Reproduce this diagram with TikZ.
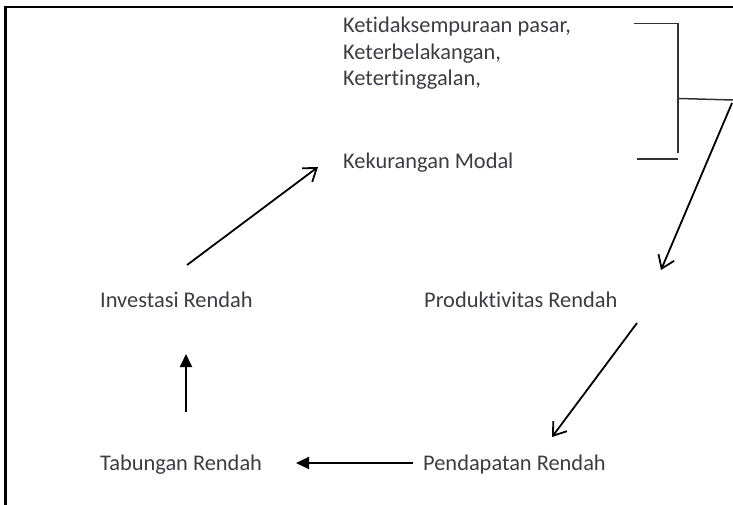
\documentclass[tikz,border=0pt]{standalone}
\usepackage{fontspec}
\setmainfont{Carlito}[Ligatures={NoCommon}]
\usetikzlibrary{arrows.meta}
\definecolor{txt}{RGB}{60,60,68}
\begin{document}
\begin{tikzpicture}[x=1pt,y=-1pt,
  lbl/.style={text=txt, font=\fontsize{22.4}{26}\selectfont, inner sep=0pt, anchor=base west},
  openarr/.style={draw=black, line width=1.8pt, -{Straight Barb[length=12pt,width=17pt,line width=1.8pt]}},
  fillarr/.style={draw=black, line width=1.9pt, -{Triangle[length=13pt,width=12pt]}},
  brk/.style={draw=black!80, line width=1.5pt},
  frame/.style={draw=black, line width=2.2pt}]
\useasboundingbox (0,0) rectangle (733,505);
% frame
\draw[frame] (5.5,505) -- (5.5,7) -- (733,7);
% texts
\node[lbl] (t1) at (343,33) {Ketidaksempuraan pasar,};
\node[lbl] (t2) at (343,60) {Keterbelakangan,};
\node[lbl] (t3) at (343,86) {Ketertinggalan,};
\node[lbl] (kek) at (343,169) {Kekurangan Modal};
\node[lbl] (inv) at (100,307) {Investasi Rendah};
\node[lbl] (prod) at (424,307) {Produktivitas Rendah};
\node[lbl] (tab) at (100,470) {Tabungan Rendah};
\node[lbl] (pend) at (423,470) {Pendapatan Rendah};
% bracket
\coordinate (b1) at (634,23.5);
\coordinate (b2) at (678,23.5);
\coordinate (b3) at (678,153);
\coordinate (b4) at (637,159);
\coordinate (b5) at (678,159);
\coordinate (bm) at (679,98.5);
\coordinate (be) at (733,100);
\draw[brk] (b1) -- (b2) -- (b3);
\draw[brk] (b4) -- (b5);
\draw[brk] (bm) -- (be);
% arrows
\coordinate (d0) at (732,103);
\coordinate (d1) at (661,270);
\draw[openarr] (d0) -- (d1);
\coordinate (p0) at (637,323);
\coordinate (p1) at (552,437);
\draw[openarr] (p0) -- (p1);
\coordinate (q0) at (413,463);
\coordinate (q1) at (296,463);
\draw[fillarr] (q0) -- (q1);
\coordinate (r0) at (186,412);
\coordinate (r1) at (186,354);
\draw[fillarr] (r0) -- (r1);
\coordinate (s0) at (187,265);
\coordinate (s1) at (318,167);
\draw[openarr] (s0) -- (s1);
\end{tikzpicture}
\end{document}
